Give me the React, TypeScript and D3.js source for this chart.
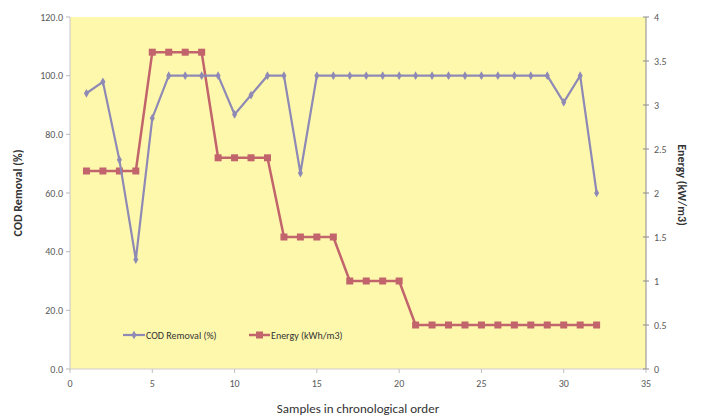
import React from "react";
import * as d3 from "d3";

const samples = [1,2,3,4,5,6,7,8,9,10,11,12,13,14,15,16,17,18,19,20,21,22,23,24,25,26,27,28,29,30,31,32];
const codRemoval = [94.0,97.9,71.3,37.3,85.5,100,100,100,100,86.8,93.4,100,100,66.8,100,100,100,100,100,100,100,100,100,100,100,100,100,100,100,90.9,100,60.0];
const energy = [2.25,2.25,2.25,2.25,3.6,3.6,3.6,3.6,2.4,2.4,2.4,2.4,1.5,1.5,1.5,1.5,1.0,1.0,1.0,1.0,0.5,0.5,0.5,0.5,0.5,0.5,0.5,0.5,0.5,0.5,0.5,0.5];
const xTicks = [0,5,10,15,20,25,30,35];
const yLeftTicks = [0,20,40,60,80,100,120];
const yRightTicks = [0,0.5,1,1.5,2,2.5,3,3.5,4];

const W = 703, H = 416;
const L = 70, R = 646, T = 17, B = 369;
const COD_COLOR = "#8E89B5";
const EN_COLOR = "#C1646C";
const FONT = "Carlito, Calibri, 'Open Sans', 'DejaVu Sans', sans-serif";

export default function App() {
  const x = d3.scaleLinear().domain([0, 35]).range([L, R]);
  const yL = d3.scaleLinear().domain([0, 120]).range([B, T]);
  const yR = d3.scaleLinear().domain([0, 4]).range([B, T]);
  const codLine = d3.line<number>().x((_, i) => x(samples[i])).y((d) => yL(d));
  const enLine = d3.line<number>().x((_, i) => x(samples[i])).y((d) => yR(d));

  return (
    <svg width={W} height={H} style={{ position: "absolute", left: 0, top: 0, fontFamily: FONT }}>
      <rect x={0} y={0} width={W} height={H} fill="#ffffff" />
      <rect x={L} y={T} width={R - L} height={B - T} fill="#FEF8AD" />
      {/* axes */}
      <line x1={L} y1={T} x2={L} y2={B} stroke="#C8C4CC" strokeWidth={1} />
      <line x1={R} y1={T} x2={R} y2={B} stroke="#8C8C8C" strokeWidth={1} />
      <line x1={L} y1={B} x2={R} y2={B} stroke="#D0CCCC" strokeWidth={1} />
      {yLeftTicks.map((t) => (
        <g key={"l" + t}>
          <line x1={L - 4} x2={L} y1={yL(t)} y2={yL(t)} stroke="#B8B8B8" />
          <text x={L - 7} y={yL(t)} dy="0.35em" textAnchor="end" fontSize={10} fill="#595959">{t.toFixed(1)}</text>
        </g>
      ))}
      {yRightTicks.map((t) => (
        <g key={"r" + t}>
          <line x1={R - 3} x2={R + 3} y1={yR(t)} y2={yR(t)} stroke="#8C8C8C" />
          <text x={R + 8} y={yR(t)} dy="0.35em" textAnchor="start" fontSize={10} fill="#595959">{String(t)}</text>
        </g>
      ))}
      {xTicks.map((t) => (
        <g key={"x" + t}>
          <line x1={x(t)} x2={x(t)} y1={B} y2={B + 4} stroke="#C0C0C0" />
          <text x={x(t)} y={B + 18} textAnchor="middle" fontSize={10} fill="#595959">{t}</text>
        </g>
      ))}
      {/* axis titles */}
      <text transform={`translate(22,${(T + B) / 2}) rotate(-90)`} textAnchor="middle" fontSize={12} fontWeight="bold" fill="#333">COD Removal (%)</text>
      <text transform={`translate(678,185) rotate(90)`} textAnchor="middle" fontSize={12} fontWeight="bold" fill="#333">Energy (kW/m3)</text>
      <text x={358} y={413} textAnchor="middle" fontSize={13} fill="#333">Samples in chronological order</text>
      {/* series */}
      <path d={enLine(energy) ?? ""} fill="none" stroke={EN_COLOR} strokeWidth={2.5} />
      {energy.map((d, i) => (
        <rect key={"e" + i} x={x(samples[i]) - 3.5} y={yR(d) - 3.5} width={7} height={7} fill={EN_COLOR} />
      ))}
      <path d={codLine(codRemoval) ?? ""} fill="none" stroke={COD_COLOR} strokeWidth={2.2} />
      {codRemoval.map((d, i) => (
        <path key={"c" + i} d={d3.symbol(d3.symbolDiamond, 22)() ?? ""} transform={`translate(${x(samples[i])},${yL(d)})`} fill={COD_COLOR} />
      ))}
      {/* legend */}
      <line x1={123} x2={145} y1={335} y2={335} stroke={COD_COLOR} strokeWidth={2.2} />
      <path d={d3.symbol(d3.symbolDiamond, 22)() ?? ""} transform="translate(134,335)" fill={COD_COLOR} />
      <text x={146} y={335} dy="0.35em" fontSize={10} fill="#333">COD Removal (%)</text>
      <line x1={249} x2={270} y1={335} y2={335} stroke={EN_COLOR} strokeWidth={2.5} />
      <rect x={256} y={331.5} width={7} height={7} fill={EN_COLOR} />
      <text x={271} y={335} dy="0.35em" fontSize={10} fill="#333">Energy (kWh/m3)</text>
    </svg>
  );
}
